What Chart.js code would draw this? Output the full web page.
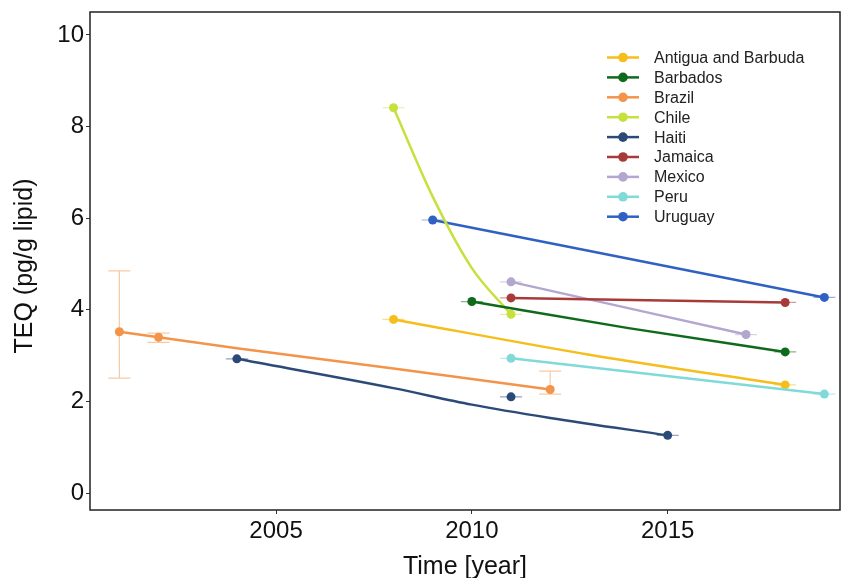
<!DOCTYPE html>
<html>
<head>
<meta charset="utf-8">
<script src="https://cdn.jsdelivr.net/npm/chart.js@4.4.1/dist/chart.umd.min.js"></script>
<style>
  html, body { margin: 0; padding: 0; background: #fff; }
  #wrap { width: 847px; height: 578px; }
</style>
</head>
<body>
<div id="wrap"><canvas id="teqChart" width="847" height="578"></canvas></div>
<script>
const countries = ["Antigua and Barbuda", "Barbados", "Brazil", "Chile", "Haiti", "Jamaica", "Mexico", "Peru", "Uruguay"];
const colors = ["#f5be1b", "#0f6a1c", "#f3944a", "#c8e03d", "#2c4a78", "#a63b3a", "#b3a6cf", "#80dad8", "#2f61c3"];

// measured points (year, mean TEQ, error bar low/high)
const ptYears = [[2008, 2018], [2010, 2018], [2001, 2002, 2012], [2008, 2011], [2004, 2011, 2015], [2011, 2018], [2011, 2017], [2011, 2019], [2009, 2019]];
const ptTEQ = [[3.79, 2.36], [4.18, 3.08], [3.52, 3.40, 2.26], [8.41, 3.90], [2.93, 2.10, 1.26], [4.26, 4.16], [4.61, 3.46], [2.94, 2.16], [5.96, 4.27]];
const ptLow = [[3.79, 2.36], [4.18, 3.08], [2.51, 3.29, 2.16], [8.41, 3.90], [2.93, 2.10, 1.26], [4.26, 4.16], [4.61, 3.46], [2.94, 2.16], [5.96, 4.27]];
const ptHigh = [[3.79, 2.36], [4.18, 3.08], [4.85, 3.49, 2.66], [8.41, 3.90], [2.93, 2.10, 1.26], [4.26, 4.16], [4.61, 3.46], [2.94, 2.16], [5.96, 4.27]];

// trend curves
const fitYears = [[2008, 2013, 2018], [2010, 2014, 2018], [2001, 2004, 2008, 2012], [2008, 2009, 2010, 2011], [2004, 2008, 2010, 2012, 2015], [2011, 2018], [2011, 2017], [2011, 2019], [2009, 2019]];
const fitTEQ = [[3.79, 3.02, 2.36], [4.18, 3.60, 3.08], [3.52, 3.16, 2.72, 2.26], [8.41, 6.47, 4.91, 3.90], [2.93, 2.29, 1.93, 1.64, 1.26], [4.26, 4.16], [4.61, 3.46], [2.94, 2.16], [5.96, 4.27]];

const xTicks = [2005, 2010, 2015];
const yTicks = [0, 2, 4, 6, 8, 10];
const yTitle = "TEQ (pg/g lipid)";

const FONT = "'Liberation Sans', Arial, sans-serif";

function fade(hex, a) {
    const n = parseInt(hex.slice(1), 16);
    return `rgba(${n >> 16}, ${(n >> 8) & 255}, ${n & 255}, ${a})`;
}

const datasets = [];
countries.forEach((c, i) => {
    datasets.push({
        label: c + " trend",
        data: fitYears[i].map((y, k) => ({ x: y, y: fitTEQ[i][k] })),
        borderColor: colors[i],
        borderWidth: 2.5,
        pointRadius: 0,
        showLine: true,
        fill: false,
        cubicInterpolationMode: "monotone"
    });
});
countries.forEach((c, i) => {
    datasets.push({
        label: c,
        data: ptYears[i].map((y, k) => ({ x: y, y: ptTEQ[i][k] })),
        backgroundColor: colors[i],
        borderColor: colors[i],
        borderWidth: 0,
        pointRadius: 4.5,
        showLine: false
    });
});

// error bars drawn under the lines
const errorBars = {
    id: "errorBars",
    beforeDatasetsDraw(chart) {
        const { ctx, scales: { x, y } } = chart;
        ctx.save();
        ctx.lineWidth = 1.2;
        countries.forEach((c, i) => {
            ctx.strokeStyle = fade(colors[i], 0.5);
            ptYears[i].forEach((yr, k) => {
                const px = x.getPixelForValue(yr);
                const lo = y.getPixelForValue(ptLow[i][k]);
                const hi = y.getPixelForValue(ptHigh[i][k]);
                ctx.beginPath();
                ctx.moveTo(px, lo); ctx.lineTo(px, hi);
                ctx.moveTo(px - 11, lo); ctx.lineTo(px + 11, lo);
                ctx.moveTo(px - 11, hi); ctx.lineTo(px + 11, hi);
                ctx.stroke();
            });
        });
        ctx.restore();
    }
};

// panel frame, y title and legend inside the panel
const frameLegend = {
    id: "frameLegend",
    afterDraw(chart) {
        const { ctx, chartArea: a } = chart;
        ctx.save();
        ctx.strokeStyle = "#222";
        ctx.lineWidth = 1.5;
        ctx.strokeRect(a.left, a.top, a.right - a.left, a.bottom - a.top);

        // y axis title
        ctx.save();
        ctx.translate(25, 266);
        ctx.rotate(-Math.PI / 2);
        ctx.font = "25px " + FONT;
        ctx.fillStyle = "#111";
        ctx.textAlign = "center";
        ctx.textBaseline = "middle";
        ctx.fillText(yTitle, 0, 0);
        ctx.restore();

        ctx.font = "16px " + FONT;
        ctx.textBaseline = "middle";
        ctx.textAlign = "left";
        countries.forEach((c, i) => {
            const ly = 57.5 + i * 19.9;
            ctx.strokeStyle = colors[i];
            ctx.lineWidth = 2.5;
            ctx.beginPath();
            ctx.moveTo(607, ly); ctx.lineTo(639, ly);
            ctx.stroke();
            ctx.fillStyle = colors[i];
            ctx.beginPath();
            ctx.arc(623, ly, 4.8, 0, Math.PI * 2);
            ctx.fill();
            ctx.fillStyle = "#222";
            ctx.fillText(c, 654, ly + 1);
        });
        ctx.restore();
    }
};

new Chart(document.getElementById("teqChart"), {
    type: "scatter",
    data: { datasets: datasets },
    plugins: [errorBars, frameLegend],
    options: {
        responsive: false,
        animation: false,
        layout: { padding: { top: 12, right: 7, left: 0, bottom: 0 } },
        plugins: { legend: { display: false }, tooltip: { enabled: false } },
        scales: {
            x: {
                type: "linear",
                min: 2000.25,
                max: 2019.4,
                afterBuildTicks: s => { s.ticks = xTicks.map(v => ({ value: v })); },
                afterFit: s => { s.height = 68; s.paddingLeft = 0; s.paddingRight = 0; },
                grid: { display: true, drawOnChartArea: false, drawTicks: true, tickLength: 4, color: "#333" },
                border: { display: false },
                ticks: { color: "#111", font: { family: FONT, size: 24 }, padding: 3, callback: v => String(v) },
                title: { display: true, text: "Time [year]", color: "#111", font: { family: FONT, size: 25 }, padding: { top: 0, bottom: -4 } }
            },
            y: {
                type: "linear",
                min: -0.37,
                max: 10.5,
                afterBuildTicks: s => { s.ticks = yTicks.map(v => ({ value: v })); },
                afterFit: s => { s.width = 90; s.paddingTop = 0; s.paddingBottom = 0; },
                grid: { display: true, drawOnChartArea: false, drawTicks: true, tickLength: 4, color: "#333" },
                border: { display: false },
                ticks: { color: "#111", font: { family: FONT, size: 24 }, padding: 2, callback: v => String(v) },
                title: { display: false }
            }
        }
    }
});
</script>
</body>
</html>
